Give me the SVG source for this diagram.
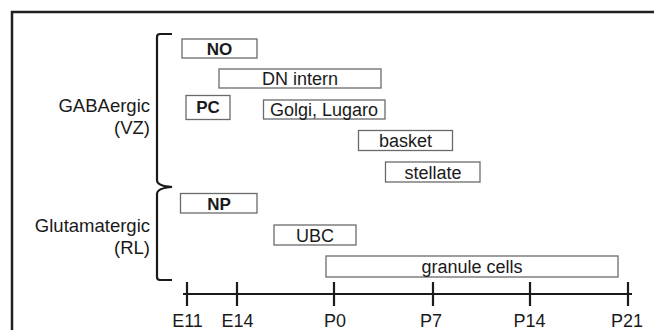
<svg xmlns="http://www.w3.org/2000/svg" width="654" height="330" viewBox="0 0 654 330">
<style>
text{font-family:"Liberation Sans",Arial,sans-serif;fill:#1a1a1a}
.lbl{font-size:18.5px;text-anchor:end}
.bt{font-size:18px;text-anchor:middle}
.bb{font-size:17px;font-weight:bold;text-anchor:middle}
.box{fill:#fff;stroke:#6a6a6a;stroke-width:1.3}
.ax{font-size:18px;text-anchor:middle}
.k{fill:none;stroke:#1a1a1a;stroke-width:2.2}
</style>
<rect width="654" height="330" fill="#fff"/>
<path d="M654,12 H12 V330" fill="none" stroke="#231f20" stroke-width="2.5"/>
<g id="labels">
<text class="lbl" x="150" y="112">GABAergic</text>
<text class="lbl" x="150" y="134">(VZ)</text>
<text class="lbl" x="150" y="232">Glutamatergic</text>
<text class="lbl" x="150" y="254">(RL)</text>
</g>
<g id="brackets">
<path class="k" d="M172,34 H160 Q157,34 157,37 V180 Q157,186 172,187 Q157,188 157,194 V277 Q157,280 160,280 H172"/>
</g>
<g id="NO"><rect class="box" x="182" y="39" width="75" height="19"/><text class="bb" x="219.5" y="55">NO</text></g>
<g id="DN"><rect class="box" x="219" y="69" width="162" height="19"/><text class="bt" x="300" y="85">DN intern</text></g>
<g id="PC"><rect class="box" x="186" y="95.5" width="44" height="24"/><text class="bb" x="208" y="113">PC</text></g>
<g id="Golgi"><rect class="box" x="263.5" y="100" width="121.5" height="19"/><text class="bt" x="324" y="116">Golgi, Lugaro</text></g>
<g id="basket"><rect class="box" x="358.5" y="130.5" width="94" height="20"/><text class="bt" x="405.5" y="147">basket</text></g>
<g id="stellate"><rect class="box" x="385.5" y="162" width="94.5" height="20"/><text class="bt" x="433" y="178.5">stellate</text></g>
<g id="NP"><rect class="box" x="180.5" y="193.5" width="76.5" height="19.5"/><text class="bb" x="219" y="209.5">NP</text></g>
<g id="UBC"><rect class="box" x="274" y="225" width="82" height="20"/><text class="bt" x="315" y="241.5">UBC</text></g>
<g id="granule"><rect class="box" x="326" y="256" width="292" height="21"/><text class="bt" x="472" y="273">granule cells</text></g>
<g id="axis">
<line class="k" x1="183" y1="294" x2="632" y2="294"/>
<path class="k" d="M187,282 V306 M237,282 V306 M334,282 V306 M433,282 V306 M530,282 V306 M628,282 V306"/>
<text class="ax" x="187.5" y="327">E11</text>
<text class="ax" x="237.5" y="327">E14</text>
<text class="ax" x="335" y="327">P0</text>
<text class="ax" x="431" y="327">P7</text>
<text class="ax" x="529.5" y="327">P14</text>
<text class="ax" x="627" y="327">P21</text>
</g>
</svg>
